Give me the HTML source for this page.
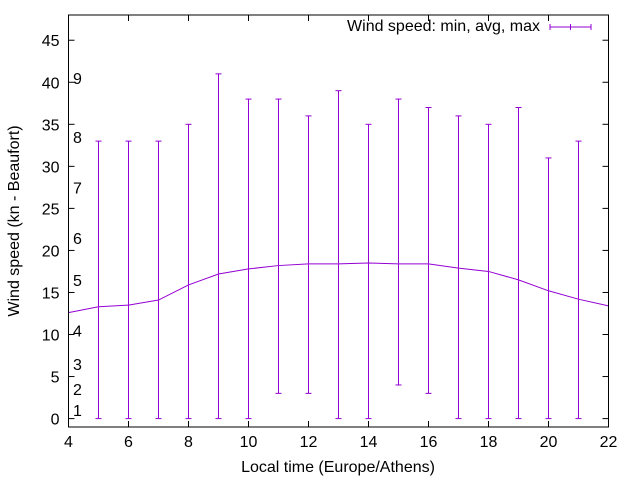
<!DOCTYPE html>
<html><head><meta charset="utf-8"><style>
body{margin:0;background:#fff}
svg{font-family:"Liberation Sans",sans-serif;font-size:16px}
</style></head><body>
<svg id="c" width="640" height="480"></svg>
<script>
const hours=[4,5,6,7,8,9,10,11,12,13,14,15,16,17,18,19,20,21,22];
const avgVals=[12.6,13.3,13.5,14.1,15.9,17.2,17.8,18.2,18.4,18.4,18.5,18.4,18.4,17.9,17.5,16.5,15.2,14.2,13.4];
const barHours=[5,6,7,8,9,10,11,12,13,14,15,16,17,18,19,20,21];
const minVals=[0,0,0,0,0,0,3,3,0,0,4,3,0,0,0,0,0];
const maxVals=[33,33,33,35,41,38,38,36,39,35,38,37,36,35,37,31,33];
const xTicks=[4,6,8,10,12,14,16,18,20,22];
const yTicks=[0,5,10,15,20,25,30,35,40,45];
const bft=[1,2,3,4,5,6,7,8,9];
const bftY=[1,3.5,6.5,10.5,16.5,21.5,27.5,33.5,40.5];
const L=68.5,R=608.5,T=15,B=427,x0=4,x1=22,y0=-1,y1=48;
const X=v=>L+(v-x0)/(x1-x0)*(R-L), Y=v=>B-(v-y0)/(y1-y0)*(B-T);
const s=document.getElementById('c'),NS='http://www.w3.org/2000/svg';
function mk(t,a,txt){const e=document.createElementNS(NS,t);for(const k in a)e.setAttribute(k,a[k]);if(txt!=null)e.textContent=txt;s.appendChild(e);return e;}
const C='#9400d3';
xTicks.forEach(v=>{
 let e=mk('line',{x1:X(v),x2:X(v),y1:B,y2:B-6,stroke:'#000'});
 
 e=mk('line',{x1:X(v),x2:X(v),y1:T,y2:T+6,stroke:'#000'});
 
 e=mk('text',{x:X(v),y:B+20,'text-anchor':'middle'},v);
 
});
yTicks.forEach(v=>{
 let e=mk('line',{x1:L,x2:L+6,y1:Y(v),y2:Y(v),stroke:'#000'});
 
 e=mk('line',{x1:R,x2:R-6,y1:Y(v),y2:Y(v),stroke:'#000'});
 
 e=mk('text',{x:L-9,y:Y(v)+6,'text-anchor':'end'},v);
 
});
bft.forEach((b,i)=>{
 const e=mk('text',{x:73,y:Y(bftY[i])+6},b);
 
});
barHours.forEach((h,i)=>{
 const x=X(h);
 let e=mk('line',{x1:x,x2:x,y1:Y(minVals[i]),y2:Y(maxVals[i]),stroke:C});
 
 e=mk('line',{x1:x-3,x2:x+3,y1:Y(maxVals[i]),y2:Y(maxVals[i]),stroke:C});
 
 e=mk('line',{x1:x-3,x2:x+3,y1:Y(minVals[i]),y2:Y(minVals[i]),stroke:C});
 
});
let p=mk('polyline',{points:hours.map((h,i)=>X(h)+','+Y(avgVals[i])).join(' '),fill:'none',stroke:C});

let f=mk('rect',{x:L,y:T,width:R-L,height:B-T,fill:'none',stroke:'#000'});

let t=mk('text',{x:540,y:31,'text-anchor':'end'},'Wind speed: min, avg, max');

let g=mk('path',{d:'M550 27H591M550 24V30M591 24V30M570.5 24V30',stroke:C,fill:'none'});

t=mk('text',{x:338,y:472,'text-anchor':'middle'},'Local time (Europe/Athens)');

t=mk('text',{x:19,y:221,'text-anchor':'middle',transform:'rotate(-90 19 221)'},'Wind speed (kn - Beaufort)');

</script>
</body></html>
